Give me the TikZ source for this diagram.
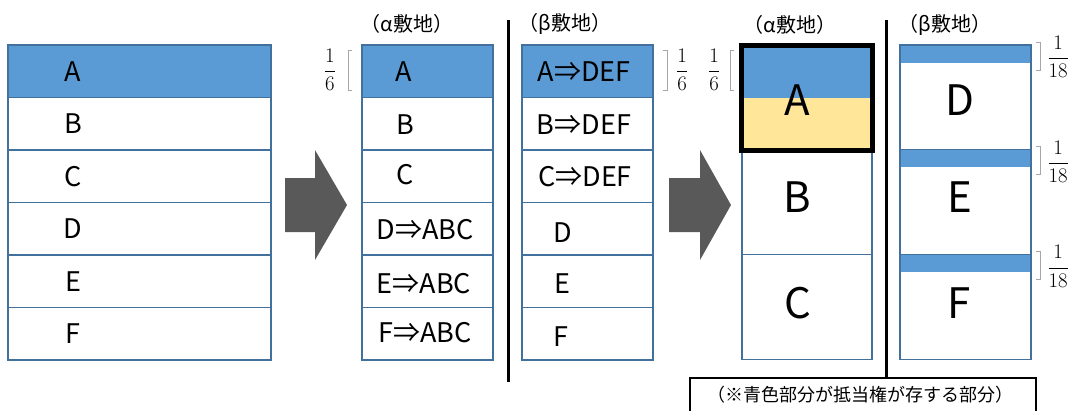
\documentclass[tikz,border=0pt]{standalone}
\usepackage[no-math]{fontspec}
\newfontfamily\jpfont{Noto Sans CJK JP}
\definecolor{plotblue}{HTML}{5B9BD5}
\definecolor{edgeblue}{HTML}{41719C}
\definecolor{plotyellow}{HTML}{FFE699}
\definecolor{arrowgray}{HTML}{595959}
\definecolor{bracketgray}{HTML}{A6A6A6}
\begin{document}
\begin{tikzpicture}[x=1pt,y=-1pt,
    cell/.style={draw=edgeblue,line width=1.2pt},
    lot/.style={font=\jpfont\fontsize{27}{32}\selectfont,inner sep=0pt},
    biglot/.style={font=\jpfont\fontsize{42}{48}\selectfont,inner sep=0pt},
    head/.style={font=\jpfont\fontsize{20}{24}\selectfont,inner sep=0pt},
    share/.style={font=\fontsize{20}{24}\selectfont,inner sep=0pt},
    brk/.style={draw=bracketgray,line width=0.8pt}]

\def\BLUEPART{plotblue}
\def\YELLOWPART{plotyellow}
\def\ROW{52.5}
\def\BIGROW{104.7}
	\useasboundingbox (0,0) rectangle (1073,410);

	% first layout: one lot split in six
	\fill[\BLUEPART] (8,45) rectangle ++ (263,\ROW);
	\foreach \r in {0,...,5}
		\draw[cell] (8,45+\r*\ROW) rectangle ++ (263,\ROW);
	\foreach \t [count=\r from 0] in {A,B,C,D,E,F}
		\node[lot] (one\t) at (73,71.25+\r*\ROW) {\t};

	\fill[arrowgray] (285,178) -- (315,178) -- (315,150) -- (347,205) -- (315,260) -- (315,232) -- (285,232) -- cycle;

	% alpha and beta lots
	\node[head] (alphaone) at (407,24) {（α敷地）};
	\node[head] (betaone) at (565,24) {（β敷地）};
	\draw[line width=3pt] (508,20) -- (508,382);

	\fill[\BLUEPART] (362,45) rectangle ++ (131,\ROW);
	\fill[\BLUEPART] (522,45) rectangle ++ (131,\ROW);
	\foreach \r in {0,...,5} {
		\draw[cell] (362,45+\r*\ROW) rectangle ++ (131,\ROW);
		\draw[cell] (522,45+\r*\ROW) rectangle ++ (131,\ROW);
	}
	\node[lot] (twoA) at (404,71.25) {A};
	\node[lot] (twoB) at (405,124.5) {B};
	\node[lot] (twoC) at (405,175) {C};
	\node[lot] (twoD) at (425,230) {D⇒ABC};
	\node[lot] (twoE) at (424,283.5) {E⇒ABC};
	\node[lot] (twoF) at (425,333) {F⇒ABC};
	\node[lot] (threeA) at (584,71.25) {A⇒DEF};
	\node[lot] (threeB) at (584,124.5) {B⇒DEF};
	\node[lot] (threeC) at (585,176.25) {C⇒DEF};
	\node[lot] (threeD) at (563,233) {D};
	\node[lot] (threeE) at (562,284) {E};
	\node[lot] (threeF) at (561,337) {F};

	\node[share] (fracone) at (330,70) {$\displaystyle\frac{1}{6}$};
	\draw[brk] (352,50) -- (348,50) -- (348,90) -- (352,90);
	\node[share] (fractwo) at (682,70) {$\displaystyle\frac{1}{6}$};
	\draw[brk] (663,50) -- (667,50) -- (667,90) -- (663,90);

	\fill[arrowgray] (669,178) -- (700,178) -- (700,150) -- (731,205) -- (700,260) -- (700,232) -- (669,232) -- cycle;

	% mortgage shares
	\node[head] (alphatwo) at (790,25) {（α敷地）};
	\node[head] (betatwo) at (945,25) {（β敷地）};
	\draw[line width=3pt] (886,20) -- (886,378);

	\node[share] (fracthree) at (714,70) {$\displaystyle\frac{1}{6}$};
	\draw[brk] (734,50) -- (730,50) -- (730,90) -- (734,90);

	\fill[\YELLOWPART] (742,97.5) rectangle (872,150);
	\fill[\BLUEPART] (742,45) rectangle (872,97.5);
	\foreach \r in {0,1,2} {
		\draw[cell] (742,45+\r*\BIGROW) rectangle ++ (130,\BIGROW);
		\fill[\BLUEPART] (900,45+\r*\BIGROW) rectangle ++ (131,17.5);
		\draw[cell] (900,45+\r*\BIGROW) rectangle ++ (131,\BIGROW);
		\draw[brk] (1036,42+\r*\BIGROW) -- (1040,42+\r*\BIGROW) -- (1040,70+\r*\BIGROW) -- (1036,70+\r*\BIGROW);
		\node[share] (eighteen\r) at (1058,57+\r*\BIGROW) {$\displaystyle\frac{1}{18}$};
	}
	\draw[line width=4.5pt] (741.5,45.5) rectangle (872.5,150.5);
	\node[biglot] (fourA) at (797,100) {A};
	\node[biglot] (fourB) at (797,197) {B};
	\node[biglot] (fourC) at (798,303) {C};
	\node[biglot] (fiveD) at (960,100) {D};
	\node[biglot] (fiveE) at (960,197) {E};
	\node[biglot] (fiveF) at (959,303) {F};

	\draw[line width=1.8pt] (690,378) rectangle (1036,418);
	\node[head,font=\jpfont\fontsize{18}{22}\selectfont] (note) at (860,395) {（※青色部分が抵当権が存する部分）};

\end{tikzpicture}
\end{document}
